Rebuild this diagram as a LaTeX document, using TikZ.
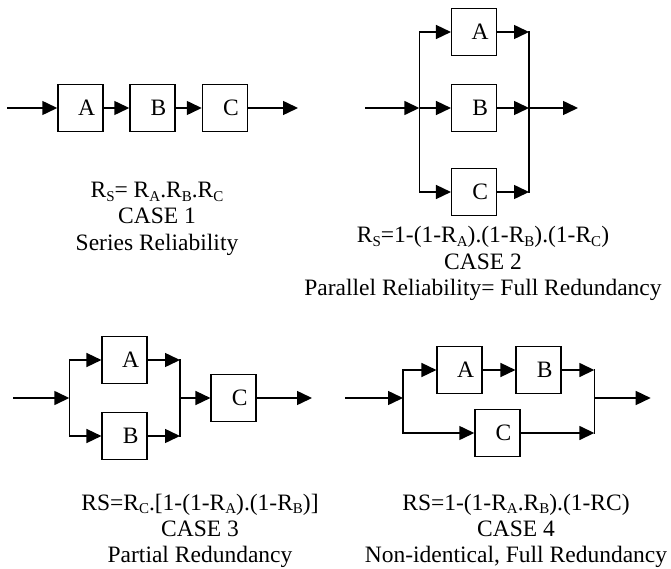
\documentclass[tikz,border=0pt]{standalone}
\usepackage{fontspec}
\setmainfont{Liberation Serif}
\usetikzlibrary{arrows.meta}
\newcommand\subs[1]{\raisebox{-0.16em}{\fontsize{15}{15}\selectfont #1}}
\begin{document}
\begin{tikzpicture}[x=1pt,y=-1pt,
  every node/.style={font=\fontsize{23.5}{26}\selectfont},
  blk/.style={draw,line width=1.5pt,minimum width=45pt,minimum height=47pt,inner sep=0pt,text depth=0pt,execute at begin node={\hspace*{12pt}}},
  wire/.style={line width=1.5pt,line cap=rect},
  arr/.style={line width=1.5pt,-{Triangle[length=15pt,width=14pt]}},
  lbl/.style={anchor=base,inner sep=0pt}]
\useasboundingbox (0,0) rectangle (671,569);

% ---------- CASE 1 ----------
\node[blk] (a1) at (80.5,108) {A};
\node[blk] (b1) at (152.5,108) {B};
\node[blk] (c1) at (225,108) {C};
\coordinate (in1) at (7,108);
\coordinate (out1) at (298,108);
\draw[arr] (in1) -- (a1);
\draw[arr] (a1) -- (b1);
\draw[arr] (b1) -- (c1);
\draw[arr] (c1) -- (out1);
\node[lbl] (f1) at (157,198) {R\subs{S}= R\subs{A}.R\subs{B}.R\subs{C}};
\node[lbl] (k1) at (157,224) {CASE 1};
\node[lbl] (t1) at (157,250) {Series Reliability};

% ---------- CASE 2 ----------
\node[blk] (a2) at (474.2,32) {A};
\node[blk] (b2) at (474.2,108) {B};
\node[blk] (c2) at (474.2,192) {C};
\coordinate (in2) at (365,108);
\coordinate (l2a) at (419.3,32);
\coordinate (l2b) at (419.3,108);
\coordinate (l2c) at (419.3,192);
\coordinate (r2a) at (529,32);
\coordinate (r2b) at (529,108);
\coordinate (r2c) at (529,192);
\coordinate (out2) at (578,108);
\draw[wire] (l2a) -- (l2c);
\draw[wire] (r2a) -- (r2c);
\draw[arr] (in2) -- (l2b);
\draw[arr] (l2a) -- (a2);
\draw[arr] (l2b) -- (b2);
\draw[arr] (l2c) -- (c2);
\draw[arr] (a2) -- (r2a);
\draw[arr] (b2) -- (r2b);
\draw[arr] (c2) -- (r2c);
\draw[arr] (r2b) -- (out2);
\node[lbl] (f2) at (483,243) {R\subs{S}=1-(1-R\subs{A}).(1-R\subs{B}).(1-R\subs{C})};
\node[lbl] (k2) at (483,269) {CASE 2};
\node[lbl] (t2) at (483,295) {Parallel Reliability= Full Redundancy};

% ---------- CASE 3 ----------
\node[blk] (a3) at (124.7,360) {A};
\node[blk] (b3) at (124.7,436) {B};
\node[blk] (c3) at (233.7,398) {C};
\coordinate (in3) at (13,398);
\coordinate (l3) at (69.3,398);
\coordinate (l3a) at (69.3,360);
\coordinate (l3b) at (69.3,436);
\coordinate (r3) at (180,398);
\coordinate (r3a) at (180,360);
\coordinate (r3b) at (180,436);
\coordinate (out3) at (312,398);
\draw[wire] (l3a) -- (l3b);
\draw[wire] (r3a) -- (r3b);
\draw[arr] (in3) -- (l3);
\draw[arr] (l3a) -- (a3);
\draw[arr] (l3b) -- (b3);
\draw[arr] (a3) -- (r3a);
\draw[arr] (b3) -- (r3b);
\draw[arr] (r3) -- (c3);
\draw[arr] (c3) -- (out3);
\node[lbl] (f3) at (200,510) {RS=R\subs{C}.[1-(1-R\subs{A}).(1-R\subs{B})]};
\node[lbl] (k3) at (200,536) {CASE 3};
\node[lbl] (t3) at (200,562) {Partial Redundancy};

% ---------- CASE 4 ----------
\node[blk] (a4) at (459.7,370) {A};
\node[blk] (b4) at (538.7,370) {B};
\node[blk] (c4) at (497.5,433) {C};
\coordinate (in4) at (345,398);
\coordinate (l4) at (403,398);
\coordinate (l4a) at (403,370);
\coordinate (l4c) at (403,433);
\coordinate (r4) at (594.3,398);
\coordinate (r4a) at (594.3,370);
\coordinate (r4c) at (594.3,433);
\coordinate (out4) at (650.7,398);
\draw[wire] (l4a) -- (l4c);
\draw[wire] (r4a) -- (r4c);
\draw[arr] (in4) -- (l4);
\draw[arr] (l4a) -- (a4);
\draw[arr] (a4) -- (b4);
\draw[arr] (b4) -- (r4a);
\draw[arr] (l4c) -- (c4);
\draw[arr] (c4) -- (r4c);
\draw[arr] (r4) -- (out4);
\node[lbl] (f4) at (516,510) {RS=1-(1-R\subs{A}.R\subs{B}).(1-RC)};
\node[lbl] (k4) at (516,536) {CASE 4};
\node[lbl] (t4) at (516,562) {Non-identical, Full Redundancy};
\end{tikzpicture}
\end{document}
